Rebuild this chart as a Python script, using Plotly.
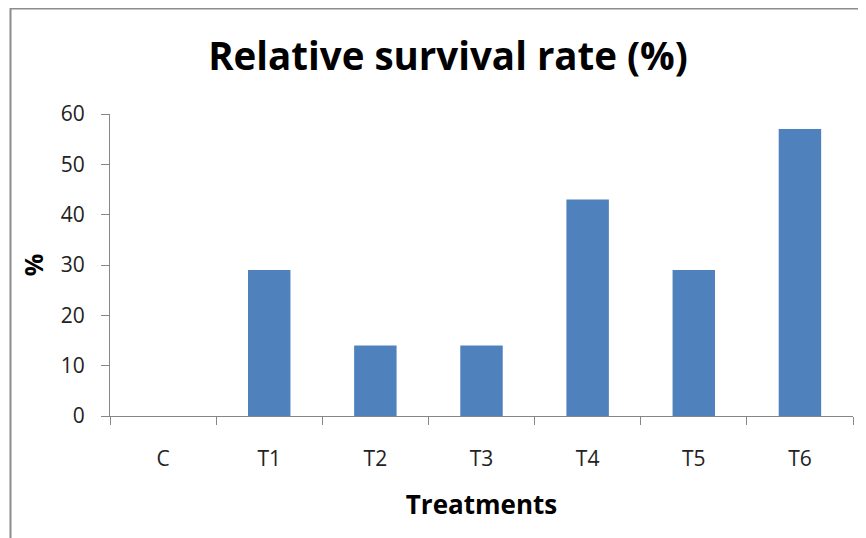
import plotly.graph_objects as go

categories = ["C", "T1", "T2", "T3", "T4", "T5", "T6"]
survival = [0, 29, 14, 14, 43, 29, 57]
y_ticks = [0, 10, 20, 30, 40, 50, 60]

W, H = 866, 538
OFF = 8  # page body margin
# plot area in screenshot pixels: x 110..853, y 114..416
L = 110 - OFF
T = 114 - OFF
R = (W + OFF) - 853
B = (H + OFF) - 416
pw, ph = W - L - R, H - T - B

def px_x(x):
    return (x - OFF - L) / pw

def px_y(y):
    return (H - B - (y - OFF)) / ph

FONT = "Open Sans"
AX = "#868686"

fig = go.Figure(go.Bar(
    x=categories, y=survival,
    marker=dict(color="#4F81BD", line=dict(width=0)),
    width=0.4,
))

fig.update_layout(
    width=W, height=H,
    margin=dict(l=L, r=R, t=T, b=B),
    paper_bgcolor="white", plot_bgcolor="white",
    showlegend=False,
    title=dict(text="<b>Relative survival rate (%)</b>", x=px_x(448), xref="paper",
               xanchor="center", y=1 - (57 - OFF) / H, yanchor="middle",
               font=dict(family=FONT, size=38.5, color="black")),
    font=dict(family=FONT, color="#222222"),
)

fig.update_xaxes(
    type="category", showline=True, linecolor=AX, linewidth=1,
    ticks="outside", tickson="boundaries", ticklen=8, tickcolor=AX,
    showgrid=False, tickfont=dict(size=21, color="#222222"),
    ticklabelstandoff=24,
    title=dict(text="<b>Treatments</b>", font=dict(size=26, color="black"), standoff=24),
)
fig.update_yaxes(
    range=[0, 60], tickvals=y_ticks, showline=True, linecolor=AX, linewidth=1,
    ticks="outside", ticklen=8, tickcolor=AX, showgrid=False, zeroline=False,
    tickfont=dict(size=21, color="#222222"), ticklabelstandoff=12,
    title=dict(text="<b>%</b>", font=dict(size=25, color="black"), standoff=10),
)

fig.add_shape(type="rect", xref="paper", yref="paper",
              x0=px_x(10.5), x1=px_x(890), y0=px_y(560), y1=px_y(8.5),
              line=dict(color="#8C8C8C", width=2), fillcolor="rgba(0,0,0,0)", layer="below")

fig.write_html("out.html")
